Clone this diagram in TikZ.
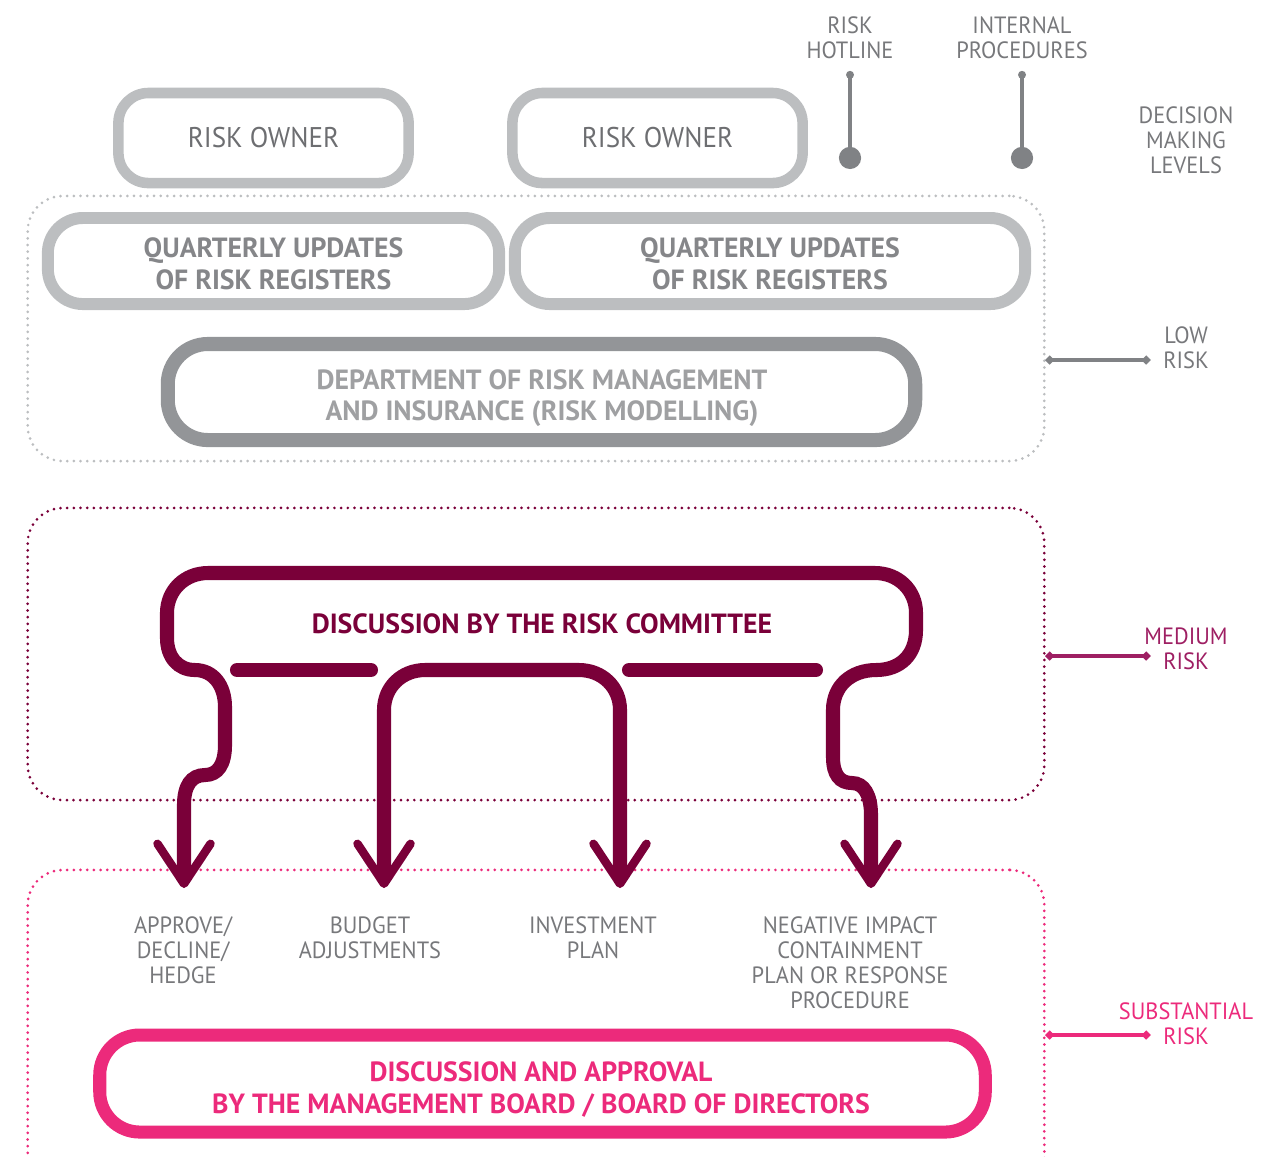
\documentclass[tikz,border=0pt]{standalone}
\usepackage{fontspec}
\setmainfont{PT Sans}
\newfontfamily\lightfont{PT Sans}[FakeStretch=0.95]
\usetikzlibrary{arrows.meta}

\definecolor{ringgray}{HTML}{BCBEC0}
\definecolor{deptgray}{HTML}{939598}
\definecolor{ownertext}{HTML}{6D6E71}
\definecolor{regtext}{HTML}{858689}
\definecolor{depttext}{HTML}{9FA0A2}
\definecolor{labeltext}{HTML}{77787B}
\definecolor{pingray}{HTML}{808285}
\definecolor{maroon}{HTML}{7A0039}
\definecolor{medrisk}{HTML}{9E1F63}
\definecolor{hotpink}{HTML}{EC2A7B}

\tikzset{
  ownerbox/.style={draw=ringgray, line width=3pt, rounded corners=3mm,
    minimum width=2.9cm, minimum height=0.9cm, text=ownertext,
    font=\lightfont\fontsize{8.1}{9}\selectfont},
  regbox/.style={draw=ringgray, line width=3.4pt, rounded corners=3.5mm,
    minimum height=0.86cm},
  deptbox/.style={draw=deptgray, line width=4pt, rounded corners=4mm,
    minimum width=7.47cm, minimum height=0.96cm},
  boardbox/.style={draw=hotpink, line width=3.7pt, rounded corners=4mm,
    minimum width=8.85cm, minimum height=0.97cm},
  boldtxt/.style={align=center, font=\fontsize{7.9}{9.1}\selectfont\bfseries},
  levelbox/.style={line width=0.85pt, dash pattern=on 0pt off 1.9pt,
    line cap=round, rounded corners=3.5mm, minimum width=10.16cm},
  smalltxt/.style={text=labeltext, align=center,
    font=\lightfont\fontsize{6.7}{7.1}\selectfont},
  levelline/.style={line width=1.1pt, {Circle[length=2.2pt]}-{Circle[length=2.2pt]}},
  pinline/.style={draw=pingray, fill=pingray, line width=0.9pt,
    {Circle[length=2.2pt]}-{Circle[length=6.3pt]}},
  commline/.style={draw=maroon, line width=4pt},
  commtips/.style={commline,
    {Straight Barb[length=4mm, width=5.3mm, line width=2.4pt 0, round]}-{Straight Barb[length=4mm, width=5.3mm, line width=2.4pt 0, round]}}
}

\begin{document}
\begin{tikzpicture}[x=0.01cm, y=-0.01cm]
\useasboundingbox (0,0) rectangle (1279,1156);

% decision levels
\node[levelbox, draw=ringgray, minimum height=2.65cm] (low) at (536,328.5) {};
\node[levelbox, draw=maroon, minimum height=2.92cm] (medium) at (536,654) {};
\node[levelbox, draw=hotpink, minimum height=3.4cm] (substantial) at (536,1040) {};

\node[smalltxt] (levels) at (1186,140) {DECISION\\MAKING\\LEVELS};
\node[smalltxt] (lowlab) at (1186,347.5) {LOW\\RISK};
\node[smalltxt, text=medrisk] (medlab) at (1186,648.5) {MEDIUM\\RISK};
\node[smalltxt, text=hotpink] (sublab) at (1186,1023.5) {SUBSTANTIAL\\RISK};

\coordinate (lowend) at (1150,360);
\coordinate (medend) at (1150,656);
\coordinate (subend) at (1150,1035);
\draw[levelline, draw=pingray, fill=pingray] (low.east |- lowend) -- (lowend);
\draw[levelline, draw=medrisk, fill=medrisk] (medium.east |- medend) -- (medend);
\draw[levelline, draw=hotpink, fill=hotpink] (substantial.east |- subend) -- (subend);

% low risk
\node[ownerbox] (owner1) at (263.5,138) {RISK OWNER};
\node[ownerbox] (owner2) at (657.5,138) {RISK OWNER};
\node[regbox, minimum width=4.51cm] (reg1) at (273.5,261) {};
\node[regbox, minimum width=5.10cm] (reg2) at (770,261) {};
\node[boldtxt, text=regtext] (reg1txt) at (reg1) [yshift=-0.3mm] {QUARTERLY UPDATES\\OF RISK REGISTERS};
\node[boldtxt, text=regtext] (reg2txt) at (reg2) [yshift=-0.3mm] {QUARTERLY UPDATES\\OF RISK REGISTERS};
\node[deptbox] (dept) at (541.5,392) {};
\node[boldtxt, text=depttext, font=\fontsize{7.9}{8.8}\selectfont\bfseries]
  (depttxt) at (542,398) {DEPARTMENT OF RISK MANAGEMENT\\AND INSURANCE (RISK MODELLING)};

\node[smalltxt] (hotline) at (850,37.5) {RISK\\HOTLINE};
\node[smalltxt] (internal) at (1022,37.5) {INTERNAL\\PROCEDURES};
\coordinate (hotdot) at (850,169);
\coordinate (intdot) at (1022,169);
\draw[pinline] (hotline.south) -- (hotdot);
\draw[pinline] (internal.south) -- (intdot);

% medium risk
\node[boldtxt, text=maroon] (committee) at (542,624) {DISCUSSION BY THE RISK COMMITTEE};
\draw[commtips] (184,888) -- (184,805)
  .. controls (184,786) and (191,775) .. (205,775)
  .. controls (218,775) and (225,764) .. (225,745)
  -- (225,707)
  .. controls (225,685) and (213,670) .. (195,670)
  .. controls (178,670) and (167,657) .. (167,638)
  -- (167,613)
  .. controls (167,590) and (185,573) .. (208,573)
  -- (875,573)
  .. controls (898,573) and (916,590) .. (916,613)
  -- (916,630)
  .. controls (916,655) and (900,670) .. (876,670)
  .. controls (851,670) and (833,686) .. (833,710)
  -- (833,757)
  .. controls (833,775) and (840,783) .. (852,783)
  .. controls (864,783) and (871,795) .. (871,815)
  -- (871,888);
\draw[commtips] (384,888) -- (384,710)
  .. controls (384,687) and (402,670) .. (425,670)
  -- (579,670)
  .. controls (602,670) and (620,687) .. (620,710)
  -- (620,888);
\draw[commline, line cap=round] (237,670) -- (371,670);
\draw[commline, line cap=round] (629,670) -- (816,670);

% substantial risk
\node[smalltxt] (approve) at (183,950) {APPROVE/\\DECLINE/\\HEDGE};
\node[smalltxt] (budget) at (370,937.5) {BUDGET\\ADJUSTMENTS};
\node[smalltxt] (invest) at (593,937.5) {INVESTMENT\\PLAN};
\node[smalltxt] (negative) at (850,962.5) {NEGATIVE IMPACT\\CONTAINMENT\\PLAN OR RESPONSE\\PROCEDURE};
\node[boardbox] (board) at (542.5,1083.5) {};
\node[boldtxt, text=hotpink] (boardtxt) at (541,1089) {DISCUSSION AND APPROVAL\\BY THE MANAGEMENT BOARD / BOARD OF DIRECTORS};

\end{tikzpicture}
\end{document}
